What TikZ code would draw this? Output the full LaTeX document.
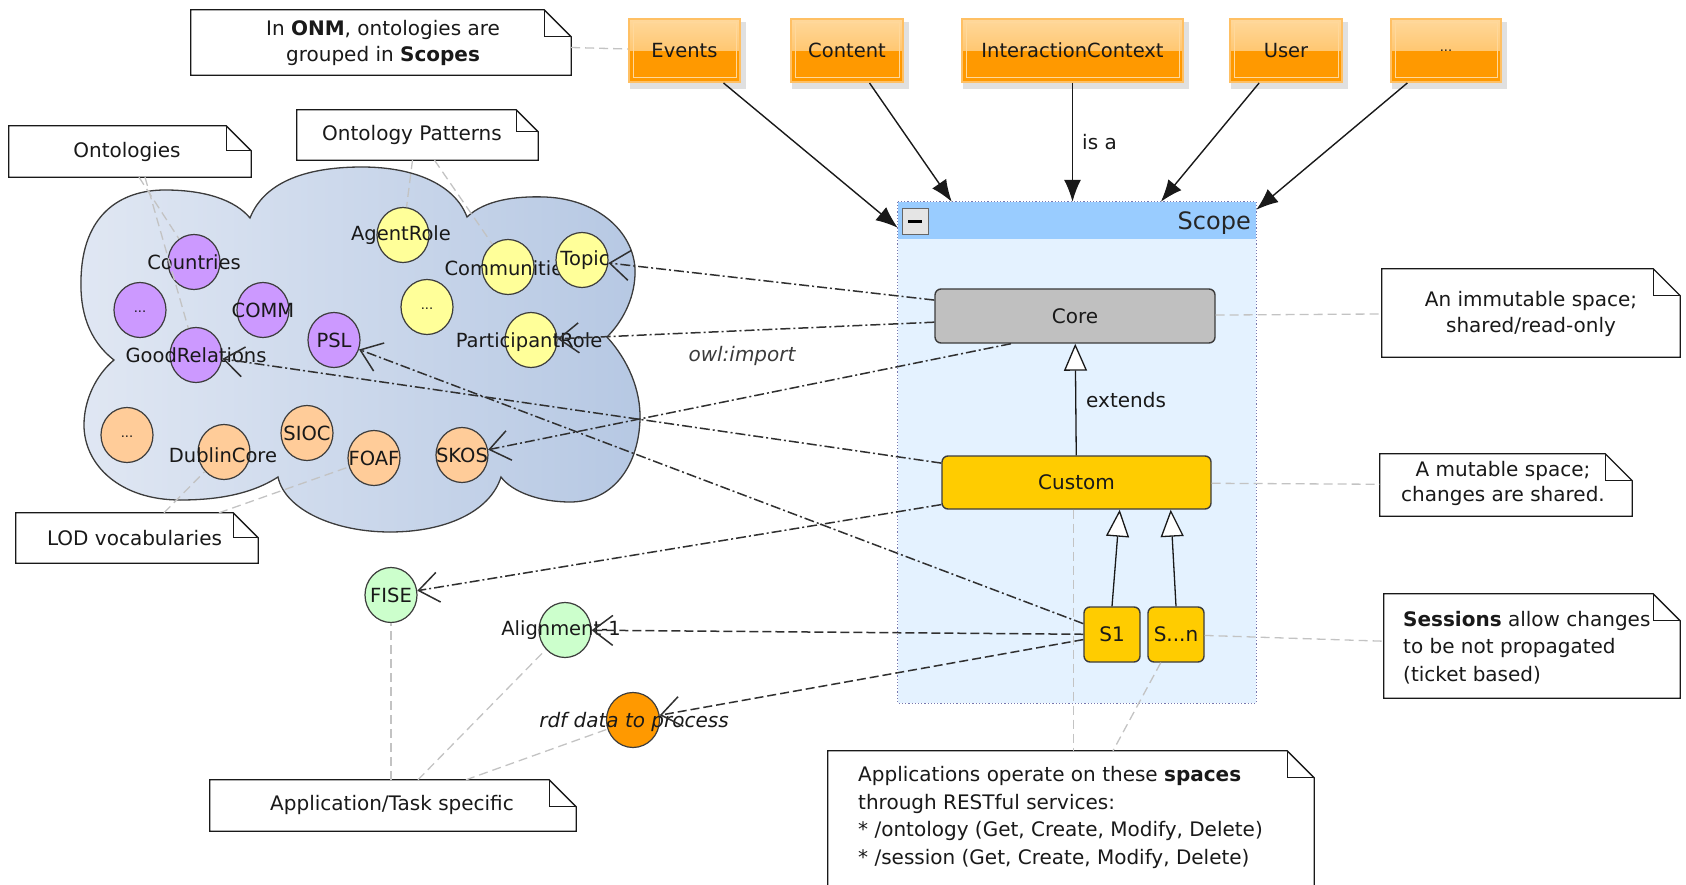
\documentclass[tikz,border=0pt]{standalone}
\usepackage{fontspec}
\setmainfont{DejaVu Sans}
\usetikzlibrary{arrows.meta,shapes.geometric,backgrounds}

\definecolor{purp}{RGB}{204,153,255}
\definecolor{yel}{RGB}{255,255,153}
\definecolor{peach}{RGB}{255,204,153}
\definecolor{mint}{RGB}{204,255,204}
\definecolor{orng}{RGB}{255,153,0}
\definecolor{orngtop}{RGB}{255,216,155}
\definecolor{orngmid}{RGB}{255,182,72}
\definecolor{orngbd}{RGB}{255,192,100}
\definecolor{coregray}{RGB}{192,192,192}
\definecolor{gold}{RGB}{255,204,0}
\definecolor{hdrblue}{RGB}{153,204,255}
\definecolor{bodyblue}{RGB}{228,242,255}
\definecolor{scopebd}{RGB}{120,120,175}
\definecolor{cloudL}{RGB}{224,231,243}
\definecolor{cloudR}{RGB}{182,200,227}
\definecolor{notegray}{RGB}{195,195,195}
\definecolor{ink}{RGB}{25,25,25}

\newcommand{\dogear}[2][27]{%
  \draw[notebd] (#2.north west) -- ([xshift=-#1]#2.north east) -- ([yshift=-#1]#2.north east) -- (#2.south east) -- (#2.south west) -- cycle;
  \draw[notebd] ([xshift=-#1]#2.north east) -- ([xshift=-#1,yshift=-#1]#2.north east) -- ([yshift=-#1]#2.north east);}

\begin{document}
\begin{tikzpicture}[x=1pt,y=-1pt,
  circ/.style={ellipse, draw=ink!85, line width=1.2pt, minimum width=52, minimum height=55, inner sep=0pt},
  clabel/.style={font=\fontsize{19.5}{24}\selectfont, text=ink, inner sep=0pt},
  dotlbl/.style={font=\fontsize{13}{16}\selectfont, text=ink, inner sep=0pt},
  obox/.style={rectangle, draw=orngbd, line width=2pt, fill=orng, minimum height=63, inner sep=0pt,
    font=\fontsize{19.5}{24}\selectfont, text=ink,
    path picture={\fill[top color=orngtop, bottom color=orngmid] (path picture bounding box.north west) rectangle (path picture bounding box.east);
      \draw[orngtop, line width=1pt] ([shift={(4pt,-4pt)}]path picture bounding box.north west) rectangle ([shift={(-4pt,4pt)}]path picture bounding box.south east);}},
  sbox/.style={rectangle, rounded corners=6pt, draw=ink!85, line width=1.4pt, fill=gold, inner sep=0pt,
    font=\fontsize{20}{24}\selectfont, text=ink},
  notebox/.style={rectangle, fill=white, draw=none, inner sep=0pt},
  notetext/.style={font=\fontsize{20}{26}\selectfont, text=ink, inner sep=0pt, align=center},
  notebd/.style={draw=ink, line width=1.3pt},
  dep/.style={draw=ink!90, line width=1.5pt, dash pattern=on 10pt off 3pt on 2pt off 3pt, -{Straight Barb[length=20pt,width=30pt]}},
  depd/.style={dep, dash pattern=on 9pt off 4pt},
  isa/.style={draw=ink, line width=1.4pt, -{Latex[length=22pt,width=17pt]}},
  inh/.style={draw=ink, line width=1.3pt, -{Triangle[length=27pt,width=23pt,fill=white]}},
  nl/.style={draw=notegray, line width=1.3pt, dash pattern=on 9pt off 5pt},
  lbl/.style={font=\fontsize{20}{24}\selectfont, text=ink, inner sep=0pt}
]
\path[use as bounding box] (0,0) rectangle (1686,885);
\clip (0,0) rectangle (1686,885);

% ---------- cloud ----------
\filldraw[left color=cloudL, right color=cloudR, draw=ink!85, line width=1.3pt]
  (114,360) .. controls (88,340) and (80,310) .. (81,280)
  .. controls (82,215) and (120,190) .. (165,190)
  .. controls (205,190) and (235,200) .. (250,218)
  .. controls (265,180) and (310,167) .. (362,167)
  .. controls (415,167) and (455,185) .. (467,217)
  .. controls (485,200) and (515,196) .. (545,197)
  .. controls (600,199) and (637,235) .. (635,275)
  .. controls (634,300) and (622,322) .. (607,337)
  .. controls (628,360) and (641,390) .. (640,420)
  .. controls (638,470) and (610,502) .. (570,502)
  .. controls (540,502) and (512,492) .. (501,477)
  .. controls (490,512) and (445,532) .. (390,532)
  .. controls (335,532) and (285,510) .. (278,477)
  .. controls (250,495) and (215,500) .. (180,500)
  .. controls (120,500) and (84,465) .. (84,425)
  .. controls (84,400) and (96,375) .. (114,360) -- cycle;

% purple
\node[circ, fill=purp] (countries) at (194,262) {};
\node[clabel] (countriesl) at (194,262) {Countries};
\node[circ, fill=purp] (pdots) at (140,310) {};
\node[dotlbl] (pdotsl) at (140,312) {...};
\node[circ, fill=purp] (comm) at (263,310) {};
\node[clabel] (comml) at (263,310) {COMM};
\node[circ, fill=purp] (goodrel) at (196,355) {};
\node[clabel] (goodrell) at (196,355) {GoodRelations};
\node[circ, fill=purp] (psl) at (334,340) {};
\node[clabel] (psll) at (334,340) {PSL};
% yellow
\node[circ, fill=yel] (agentrole) at (403,235) {};
\node[clabel] (agentrolel) at (401,235) {AgentRole};
\node[circ, fill=yel] (ydots) at (427,307) {};
\node[dotlbl] (ydotsl) at (427,309) {...};
\node[circ, fill=yel] (communities) at (508,267) {};
\node[clabel] (communitiesl) at (509,268) {Communities};
\node[circ, fill=yel] (topic) at (582,260) {};
\node[clabel] (topicl) at (585,260) {Topic};
\node[circ, fill=yel] (partrole) at (531,340) {};
\node[clabel] (partrolel) at (529,342) {ParticipantRole};
% peach
\node[circ, fill=peach] (odots) at (127,435) {};
\node[dotlbl] (odotsl) at (127,437) {...};
\node[circ, fill=peach] (dublin) at (224,452) {};
\node[clabel] (dublinl) at (223,455) {DublinCore};
\node[circ, fill=peach] (sioc) at (307,433) {};
\node[clabel] (siocl) at (307,433) {SIOC};
\node[circ, fill=peach] (foaf) at (374,458) {};
\node[clabel] (foafl) at (374,458) {FOAF};
\node[circ, fill=peach] (skos) at (462,455) {};
\node[clabel] (skosl) at (462,455) {SKOS};
% green / orange
\node[circ, fill=mint] (fise) at (391,595) {};
\node[clabel] (fisel) at (391,595) {FISE};
\node[circ, fill=mint] (align) at (565,630) {};
\node[clabel] (alignl) at (561,630) {Alignment-1};
\node[circ, fill=orng, minimum width=53] (rdf) at (633,720) {};
\node[clabel, font=\fontsize{20}{24}\selectfont\itshape] (rdfl) at (634,722) {rdf data to process};

% ---------- notes ----------
\node[notebox, minimum width=380, minimum height=65] (onm) at (381,42.5) {};
\dogear{onm}
\node[notetext] (onmt) at (383,43) {In \textbf{ONM}, ontologies are\\grouped in \textbf{Scopes}};

\node[notebox, minimum width=241, minimum height=50] (ontpat) at (417.5,135) {};
\dogear[22]{ontpat}
\node[notetext] (ontpatt) at (412,135) {Ontology Patterns};

\node[notebox, minimum width=242, minimum height=51] (ontol) at (130,151.5) {};
\dogear[25]{ontol}
\node[notetext] (ontolt) at (127,152) {Ontologies};

\node[notebox, minimum width=242, minimum height=50] (lod) at (137,538) {};
\dogear[25]{lod}
\node[notetext] (lodt) at (134.5,538) {LOD vocabularies};

\node[notebox, minimum width=366, minimum height=51] (app) at (393,805.5) {};
\dogear[27]{app}
\node[notetext] (appt) at (392,805) {Application/Task specific};

\node[notebox, minimum width=298, minimum height=88] (immut) at (1531,313) {};
\dogear[27]{immut}
\node[notetext] (immutt) at (1531,314) {An immutable space;\\shared/read-only};

\node[notebox, minimum width=252, minimum height=62] (mut) at (1506,485) {};
\dogear[27]{mut}
\node[notetext, font=\fontsize{20}{25}\selectfont] (mutt) at (1503,483.5) {A mutable space;\\changes are shared.};

\node[notebox, minimum width=296, minimum height=104] (sess) at (1532,646) {};
\dogear[27]{sess}
\node[notetext, align=left, anchor=west, font=\fontsize{20}{27.5}\selectfont] (sesst) at (1403,647.5) {\textbf{Sessions} allow changes\\to be not propagated\\(ticket based)};

\node[notebox, minimum width=486, minimum height=149] (appl) at (1071,825.5) {};
\dogear[27]{appl}
\node[notetext, align=left, anchor=west, font=\fontsize{20}{27.6}\selectfont] (applt) at (858,817.5) {Applications operate on these \textbf{spaces}\\through RESTful services:\\* /ontology (Get, Create, Modify, Delete)\\* /session (Get, Create, Modify, Delete)};

% ---------- scope ----------
\node[rectangle, fill=bodyblue, draw=none, minimum width=358, minimum height=501, inner sep=0pt] (scope) at (1077,452.5) {};
\fill[hdrblue] (scope.north west) rectangle ([yshift=-37]scope.north east);
\draw[scopebd, line width=1.2pt, dotted] (scope.north west) rectangle (scope.south east);
\node[rectangle, draw=black!60, fill=black!10, line width=1pt, minimum width=26, minimum height=26, inner sep=0pt] (minus) at (915,221.5) {};
\draw[black, line width=3.5pt] ([xshift=-7]minus.center) -- ([xshift=7]minus.center);
\node[lbl, font=\fontsize{24}{28}\selectfont, text=black!85, anchor=east] (scopel) at (1251,223) {Scope};

\node[sbox, fill=coregray, minimum width=280, minimum height=54] (core) at (1075,316) {Core};
\node[sbox, minimum width=269, minimum height=53] (custom) at (1076.5,482.5) {Custom};
\node[sbox, minimum width=56, minimum height=55] (s1) at (1112,634.5) {S1};
\node[sbox, minimum width=56, minimum height=55] (sn) at (1176,634.5) {S...n};

% ---------- top orange boxes ----------
\node[obox, minimum width=111] (events) at (684.5,50.5) {Events};
\node[obox, minimum width=112] (content) at (847,50.5) {Content};
\node[obox, minimum width=221] (ic) at (1072.5,50.5) {InteractionContext};
\node[obox, minimum width=112] (user) at (1286,50.5) {User};
\node[obox, minimum width=110, font=\fontsize{13}{16}\selectfont] (more) at (1446,50.5) {...};
\begin{pgfonlayer}{background}
  \foreach \n in {events,content,ic,user,more}
    \fill[black, opacity=0.12] ([shift={(2pt,-4pt)}]\n.north west) rectangle ([shift={(5pt,-6pt)}]\n.south east);
\end{pgfonlayer}

% ---------- is-a arrows ----------
\draw[isa] (events) -- ([yshift=-26]scope.north west);
\draw[isa] (content) -- ([xshift=54]scope.north west);
\draw[isa] (ic) -- (ic |- scope.north);
\draw[isa] (user) -- ([xshift=263]scope.north west);
\draw[isa] (more) -- ([yshift=-8]scope.north east);
\node[lbl, anchor=west] (isal) at (1082,142) {is a};

% ---------- inheritance ----------
\draw[inh] (custom) -- (core);
\node[lbl, anchor=west] (extl) at (1086,400) {extends};
\draw[inh] (s1.north) -- ([xshift=-92]custom.south east);
\draw[inh] (sn.north) -- ([xshift=-41]custom.south east);

% ---------- imports ----------
\draw[dep] (core) -- (topic);
\draw[dep] (core) -- (partrole);
\draw[dep] ([xshift=-64]core.south) -- (skos);
\draw[dep] (custom) -- (goodrel);
\draw[dep] (custom) -- (fise);
\draw[dep] (s1) -- (psl);
\draw[depd] (s1) -- (align);
\draw[depd] (s1) -- (rdf);
\node[lbl, font=\fontsize{20}{24}\selectfont\itshape, text=ink!85] (owl) at (742,356) {owl:import};

% ---------- note links ----------
\draw[nl] (onm) -- (events);
\draw[nl] ([xshift=9]ontol.south) -- (countries);
\draw[nl] ([xshift=15]ontol.south) -- (goodrel);
\draw[nl] ([xshift=-5]ontpat.south) -- (agentrole);
\draw[nl] ([xshift=17]ontpat.south) -- (communities);
\draw[nl] ([xshift=27]lod.north) -- (dublin);
\draw[nl] ([xshift=82]lod.north) -- (foaf);
\draw[nl] (app.north -| fise) -- (fise);
\draw[nl] ([xshift=25]app.north) -- (align);
\draw[nl] ([xshift=73]app.north) -- (rdf);
\draw[nl] ([xshift=-3]custom.south) -- ([xshift=-3]custom.south |- appl.north);
\draw[nl] (sn) -- ([xshift=42]appl.north);
\draw[nl] (core) -- (immut);
\draw[nl] (custom) -- (mut);
\draw[nl] (sn) -- (sess);
\end{tikzpicture}
\end{document}
